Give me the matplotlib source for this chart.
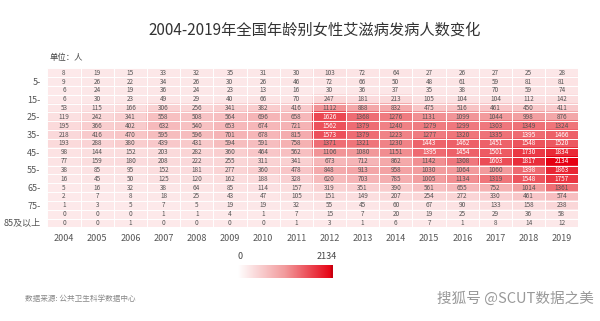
import numpy as np
import matplotlib
matplotlib.use('Agg')
from matplotlib import pyplot as plt
from matplotlib.colors import LinearSegmentedColormap

plt.rcParams['font.family'] = ['Noto Sans CJK SC', 'DejaVu Sans']

years = ['2004', '2005', '2006', '2007', '2008', '2009', '2010', '2011',
         '2012', '2013', '2014', '2015', '2016', '2017', '2018', '2019']
ages = ['0-', '5-', '10-', '15-', '20-', '25-', '30-', '35-', '40-',
        '45-', '50-', '55-', '60-', '65-', '70-', '75-', '80-', '85及以上']
# only every other age group gets a label in the original
age_labels = ['', '5-', '', '15-', '', '25-', '', '35-', '',
              '45-', '', '55-', '', '65-', '', '75-', '', '85及以上']

age_0 = [8, 19, 15, 33, 32, 35, 31, 30, 103, 72, 64, 27, 26, 27, 25, 28]
age_5 = [9, 26, 22, 34, 26, 30, 26, 46, 72, 66, 50, 48, 61, 59, 81, 81]
age_10 = [6, 24, 19, 36, 24, 23, 13, 16, 30, 36, 37, 35, 38, 70, 59, 74]
age_15 = [6, 30, 23, 49, 29, 40, 66, 70, 247, 181, 213, 105, 104, 104, 112, 142]
age_20 = [53, 115, 166, 306, 256, 341, 382, 416, 1112, 888, 832, 475, 516, 461, 450, 411]
age_25 = [119, 242, 341, 558, 508, 564, 696, 658, 1626, 1368, 1276, 1131, 1099, 1044, 998, 876]
age_30 = [195, 366, 402, 632, 540, 653, 674, 721, 1562, 1379, 1240, 1279, 1299, 1303, 1349, 1324]
age_35 = [218, 416, 470, 595, 596, 701, 678, 815, 1573, 1379, 1223, 1277, 1320, 1335, 1395, 1466]
age_40 = [193, 288, 380, 439, 431, 594, 591, 758, 1371, 1321, 1230, 1443, 1462, 1451, 1548, 1520]
age_45 = [98, 144, 152, 203, 282, 360, 464, 562, 1106, 1080, 1151, 1395, 1454, 1501, 1730, 1834]
age_50 = [77, 159, 180, 208, 222, 255, 311, 341, 673, 712, 862, 1142, 1308, 1603, 1817, 2134]
age_55 = [38, 85, 95, 152, 181, 277, 360, 478, 848, 913, 958, 1030, 1064, 1060, 1398, 1863]
age_60 = [16, 45, 50, 125, 120, 162, 188, 328, 620, 703, 785, 1005, 1134, 1319, 1548, 1757]
age_65 = [5, 16, 32, 38, 64, 85, 114, 157, 319, 351, 390, 561, 655, 752, 1014, 1361]
age_70 = [2, 7, 8, 18, 25, 43, 47, 105, 151, 149, 207, 254, 272, 330, 461, 574]
age_75 = [1, 3, 5, 7, 5, 19, 19, 32, 55, 45, 60, 67, 90, 133, 158, 238]
age_80 = [0, 0, 0, 1, 1, 4, 1, 7, 15, 7, 20, 19, 25, 29, 36, 58]
age_85 = [0, 0, 1, 0, 0, 0, 0, 1, 3, 1, 6, 7, 1, 8, 14, 12]

data = np.array([age_0, age_5, age_10, age_15, age_20, age_25, age_30, age_35, age_40,
                 age_45, age_50, age_55, age_60, age_65, age_70, age_75, age_80, age_85])
vmax = data.max()

cmap = LinearSegmentedColormap.from_list('reds', ['#fde9ea', '#f29a9c', '#e60012'])

fig = plt.figure(figsize=(6, 3.21), dpi=100)
fig.patch.set_facecolor('white')

fig.text(0.525, 0.905, '2004-2019年全国年龄别女性艾滋病发病人数变化',
         ha='center', va='center', fontsize=11, color='#333333')
fig.text(0.083, 0.822, '单位：人', ha='left', va='center', fontsize=6, color='#444444')

ax = fig.add_axes([0.079, 0.2916, 0.885, 0.4956])
im = ax.imshow(data, cmap=cmap, vmin=0, vmax=vmax, aspect='auto')

# white grid between cells
ax.set_xticks(np.arange(-0.5, len(years), 1), minor=True)
ax.set_yticks(np.arange(-0.5, len(ages), 1), minor=True)
ax.grid(which='minor', color='white', linewidth=0.7)
ax.tick_params(which='minor', length=0)

for i in range(len(ages)):
    for j in range(len(years)):
        v = data[i, j]
        ax.text(j, i, str(v), ha='center', va='center', fontsize=4.6,
                color='white' if v > 1380 else '#555555')

ax.set_xticks(range(len(years)))
ax.set_xticklabels(years, fontsize=6.5, color='#555555')
ax.set_yticks(range(len(ages)))
ax.set_yticklabels(age_labels, fontsize=6.5, color='#555555')
ax.tick_params(which='major', length=0, pad=5)
for s in ax.spines.values():
    s.set_visible(False)

# horizontal colour bar
cax = fig.add_axes([0.397, 0.134, 0.158, 0.04])
grad = np.linspace(0, vmax, 256).reshape(1, -1)
cax.imshow(grad, cmap=LinearSegmentedColormap.from_list('bar', ['#ffffff', '#f29a9c', '#e60012']),
           aspect='auto', extent=[0, vmax, 0, 1])
cax.axvline(vmax, color='#c80010', linewidth=2.5)
cax.set_xlim(0, vmax * 1.01)
cax.set_xticks([])
cax.set_yticks([])
for s in cax.spines.values():
    s.set_visible(False)
fig.text(0.4, 0.2, '0', ha='center', va='center', fontsize=6.5, color='#444444')
fig.text(0.545, 0.2, str(vmax), ha='center', va='center', fontsize=6.5, color='#444444')

fig.text(0.042, 0.068, '数据来源: 公共卫生科学数据中心', ha='left', va='center',
         fontsize=5.5, color='#888888')
fig.text(0.99, 0.07, '搜狐号 @SCUT数据之美', ha='right', va='center',
         fontsize=10.5, color='#999999', style='italic')

plt.savefig('out.png', dpi=100)
